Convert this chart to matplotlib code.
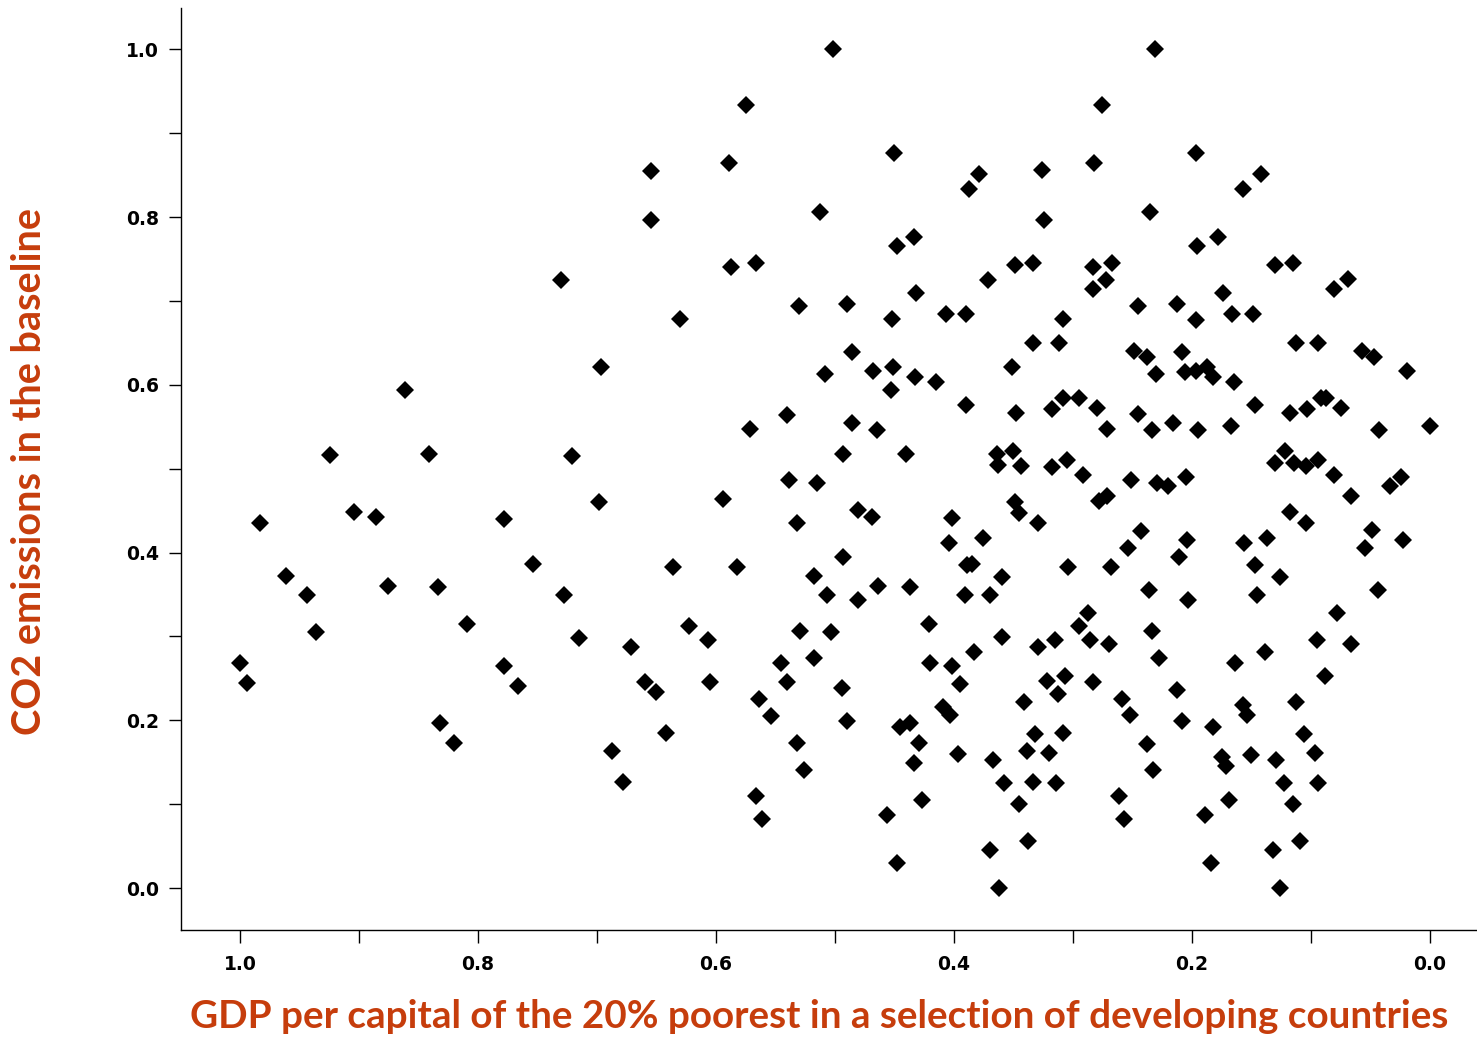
import matplotlib
matplotlib.use("Agg")
import matplotlib.pyplot as plt
import numpy as np

# GDP per capita of the poorest 20% (normalised) and baseline CO2 emissions (normalised)
gdp = [
    1.000, 0.994, 0.983, 0.961, 0.944, 0.936, 0.924, 0.904, 0.886, 0.876,
    0.861, 0.841, 0.834, 0.832, 0.820, 0.809, 0.778, 0.778, 0.766, 0.754,
    0.730, 0.728, 0.721, 0.715, 0.697, 0.698, 0.687, 0.678, 0.671, 0.660,
    0.650, 0.655, 0.655, 0.642, 0.636, 0.630, 0.623,
    0.502, 0.575, 0.589, 0.450, 0.513, 0.434, 0.448, 0.387, 0.379,
    0.231, 0.276, 0.197, 0.282, 0.326, 0.324, 0.235, 0.196, 0.178,
    0.142, 0.157,
    0.587, 0.566, 0.432, 0.530, 0.490, 0.452, 0.407, 0.390, 0.486, 0.508,
    0.468, 0.451, 0.433, 0.415, 0.453, 0.390, 0.540, 0.571, 0.486, 0.465,
    0.493, 0.440,
    0.371, 0.349, 0.334, 0.283, 0.267, 0.272, 0.283, 0.308, 0.245, 0.213,
    0.197, 0.174, 0.334, 0.312, 0.351, 0.249, 0.238, 0.230, 0.208, 0.206,
    0.197, 0.187, 0.182, 0.348, 0.318, 0.308, 0.295, 0.280, 0.271, 0.245,
    0.234, 0.216, 0.195, 0.364, 0.350, 0.363, 0.344, 0.318, 0.305, 0.292,
    0.130, 0.115, 0.069, 0.081, 0.166, 0.149, 0.113, 0.094, 0.057, 0.047,
    0.019, 0.165, 0.147, 0.118, 0.103, 0.092, 0.087, 0.075, 0.167, 0.043,
    0.000, 0.122, 0.130, 0.114, 0.104, 0.094, 0.081, 0.024, 0.034,
    0.539, 0.515, 0.594, 0.532, 0.481, 0.469, 0.402, 0.404, 0.582, 0.493,
    0.518, 0.507, 0.481, 0.464, 0.437, 0.421, 0.607, 0.529, 0.503, 0.518,
    0.545, 0.420, 0.402, 0.605, 0.540, 0.494, 0.395,
    0.251, 0.229, 0.220, 0.205, 0.278, 0.271, 0.349, 0.345, 0.329, 0.376,
    0.243, 0.254, 0.204, 0.211, 0.389, 0.385, 0.360, 0.304, 0.268, 0.391,
    0.370, 0.236, 0.203, 0.287, 0.295, 0.286, 0.270, 0.360, 0.383, 0.329,
    0.315, 0.234, 0.228, 0.307, 0.322, 0.283, 0.213,
    0.066, 0.118, 0.104, 0.156, 0.137, 0.049, 0.055, 0.023, 0.147, 0.126,
    0.145, 0.044, 0.078, 0.095, 0.066, 0.139, 0.164, 0.088,
    0.564, 0.554, 0.532, 0.526, 0.490, 0.566, 0.561, 0.445, 0.437, 0.429,
    0.434, 0.409, 0.403, 0.397, 0.427, 0.456, 0.448,
    0.341, 0.313, 0.259, 0.252, 0.208, 0.182, 0.332, 0.308, 0.339, 0.320,
    0.367, 0.238, 0.233, 0.358, 0.334, 0.314, 0.345, 0.261, 0.257, 0.189,
    0.338, 0.370, 0.184, 0.362,
    0.157, 0.154, 0.113, 0.106, 0.097, 0.175, 0.171, 0.150, 0.129, 0.123,
    0.094, 0.169, 0.115, 0.132, 0.109, 0.126,
]
co2 = [
    0.268, 0.244, 0.435, 0.372, 0.350, 0.305, 0.516, 0.449, 0.443, 0.360,
    0.594, 0.518, 0.359, 0.197, 0.173, 0.315, 0.265, 0.440, 0.241, 0.386,
    0.725, 0.350, 0.515, 0.298, 0.621, 0.460, 0.164, 0.126, 0.287, 0.246,
    0.234, 0.796, 0.855, 0.185, 0.383, 0.679, 0.313,
    1.000, 0.934, 0.865, 0.877, 0.806, 0.776, 0.765, 0.834, 0.851,
    1.000, 0.934, 0.877, 0.865, 0.856, 0.797, 0.806, 0.766, 0.776,
    0.851, 0.833,
    0.741, 0.745, 0.709, 0.694, 0.696, 0.678, 0.684, 0.684, 0.639, 0.613,
    0.616, 0.621, 0.609, 0.604, 0.594, 0.576, 0.564, 0.547, 0.554, 0.546,
    0.517, 0.518,
    0.725, 0.743, 0.745, 0.741, 0.745, 0.725, 0.714, 0.679, 0.694, 0.696,
    0.677, 0.709, 0.650, 0.650, 0.621, 0.640, 0.633, 0.613, 0.639, 0.615,
    0.617, 0.621, 0.609, 0.566, 0.571, 0.584, 0.584, 0.572, 0.547, 0.565,
    0.546, 0.554, 0.546, 0.518, 0.521, 0.505, 0.503, 0.502, 0.510, 0.492,
    0.743, 0.745, 0.726, 0.714, 0.684, 0.684, 0.650, 0.650, 0.640, 0.633,
    0.617, 0.604, 0.576, 0.566, 0.571, 0.584, 0.584, 0.572, 0.551, 0.546,
    0.551, 0.521, 0.507, 0.507, 0.503, 0.511, 0.492, 0.490, 0.479,
    0.487, 0.483, 0.464, 0.435, 0.451, 0.443, 0.441, 0.412, 0.383, 0.395,
    0.372, 0.350, 0.344, 0.360, 0.359, 0.315, 0.296, 0.306, 0.305, 0.274,
    0.268, 0.268, 0.265, 0.246, 0.246, 0.238, 0.243,
    0.487, 0.483, 0.479, 0.490, 0.462, 0.468, 0.460, 0.447, 0.435, 0.417,
    0.426, 0.406, 0.415, 0.395, 0.385, 0.387, 0.371, 0.383, 0.383, 0.350,
    0.350, 0.355, 0.344, 0.328, 0.313, 0.296, 0.291, 0.299, 0.281, 0.287,
    0.296, 0.306, 0.274, 0.253, 0.247, 0.246, 0.236,
    0.468, 0.448, 0.435, 0.412, 0.417, 0.427, 0.406, 0.415, 0.385, 0.371,
    0.350, 0.356, 0.328, 0.296, 0.291, 0.281, 0.268, 0.253,
    0.225, 0.205, 0.173, 0.141, 0.199, 0.110, 0.082, 0.192, 0.197, 0.173,
    0.149, 0.216, 0.206, 0.160, 0.105, 0.087, 0.030,
    0.222, 0.232, 0.226, 0.206, 0.199, 0.192, 0.184, 0.185, 0.163, 0.161,
    0.153, 0.172, 0.141, 0.125, 0.126, 0.125, 0.100, 0.110, 0.082, 0.087,
    0.056, 0.046, 0.030, 0.000,
    0.218, 0.206, 0.222, 0.184, 0.161, 0.156, 0.145, 0.159, 0.153, 0.125,
    0.125, 0.105, 0.100, 0.046, 0.056, 0.000,
]

label_color = "#C63D0C"

fig = plt.figure(figsize=(14.77, 10.38), dpi=100)
ax = fig.add_axes([0.1225, 0.104, 0.8775, 0.888])

ax.plot(gdp, co2, linestyle="none", marker="D", markersize=8.8,
        color="black", markeredgewidth=0, clip_on=False)

ax.set_xlim(1.0496, -0.0395)
ax.set_ylim(-0.050, 1.049)

ax.set_xticks([1.0, 0.8, 0.6, 0.4, 0.2, 0.0])
ax.set_xticks([0.9, 0.7, 0.5, 0.3, 0.1], minor=True)
ax.set_yticks([0.0, 0.2, 0.4, 0.6, 0.8, 1.0])
ax.set_yticks([0.1, 0.3, 0.5, 0.7, 0.9], minor=True)
ax.xaxis.set_major_formatter(matplotlib.ticker.FormatStrFormatter("%.1f"))
ax.yaxis.set_major_formatter(matplotlib.ticker.FormatStrFormatter("%.1f"))

ax.tick_params(axis="both", which="major", length=9, width=1, labelsize=13.5,
               direction="out", color="black")
ax.tick_params(axis="both", which="minor", length=9, width=1, direction="out")
ax.tick_params(axis="x", pad=9)
ax.tick_params(axis="y", pad=7)
for lab in ax.get_xticklabels() + ax.get_yticklabels():
    lab.set_fontweight("semibold")

for side in ("top", "right"):
    ax.spines[side].set_visible(False)
for side in ("left", "bottom"):
    ax.spines[side].set_linewidth(1)
    ax.spines[side].set_color("black")

fig.text(190 / 1477, 1 - 1016 / 1038,
         "GDP per capital of the 20% poorest in a selection of developing countries",
         ha="left", va="center", fontsize=27.8, fontweight="bold",
         color=label_color, family="Lato")
fig.text(30 / 1477, 1 - 472 / 1038, "CO2 emissions in the baseline",
         ha="center", va="center", rotation=90, fontsize=28.5, fontweight="bold",
         color=label_color, family="Lato")

fig.savefig("out.png", dpi=100)
